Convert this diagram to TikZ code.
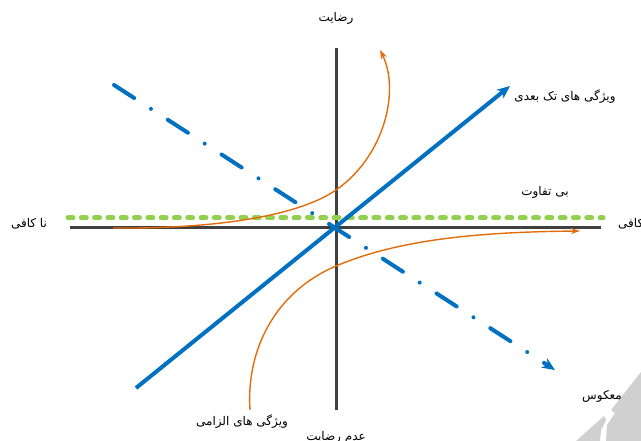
\documentclass[tikz,border=0pt]{standalone}
\usepackage{fontspec}
\newfontfamily\fa[Script=Arabic]{DejaVu Sans}
\TeXXeTstate=1
\usetikzlibrary{arrows.meta}
\definecolor{axisgray}{HTML}{404040}
\definecolor{blueline}{HTML}{0070C0}
\definecolor{greenline}{HTML}{92D050}
\definecolor{orangeline}{HTML}{E36C0A}
\definecolor{wmgray}{HTML}{D0D0D0}
\newcommand{\fatext}[1]{{\fa\beginR #1\endR}}
\begin{document}
\begin{tikzpicture}[x=1pt,y=-1pt,
  axisline/.style={draw=axisgray,line width=3pt},
  greendots/.style={draw=greenline,line width=5pt,line cap=round,dash pattern=on 5pt off 8.3pt},
  bluesolid/.style={draw=blueline,line width=4pt,-{Stealth[length=13pt,width=11pt]}},
  bluedashdot/.style={draw=blueline,line width=4pt,line cap=round,dash pattern=on 24pt off 20pt on 0pt off 20pt,-{Stealth[length=13pt,width=11pt]}},
  orangecurve/.style={draw=orangeline,line width=1.4pt,-{Stealth[length=9pt,width=6pt]}},
  lbl/.style={inner sep=0pt,font=\fa\fontsize{12}{14}\selectfont}]
\useasboundingbox (0,0) rectangle (641,441);
% watermark fragment
\fill[wmgray] (641,372) -- (641,441) -- (606,441) -- (607,425) -- (615,413) -- (611,410) -- cycle;
\fill[wmgray] (604,416) -- (606,420) -- (601,430) -- (600,441) -- (576,441) -- cycle;
% coordinates
\coordinate (axL) at (70,228);
\coordinate (axR) at (601,228);
\coordinate (axT) at (336,48);
\coordinate (axB) at (336,410);
\coordinate (gL) at (68,218);
\coordinate (gR) at (603,218);
\coordinate (b1s) at (136,388);
\coordinate (b1e) at (510,86);
\coordinate (b2s) at (114,85);
\coordinate (b2e) at (555,370);
\coordinate (o1s) at (113,228);
\coordinate (o1m) at (336,190);
\coordinate (o1e) at (380,50);
\coordinate (o2s) at (250,410);
\coordinate (o2m) at (336,266);
\coordinate (o2e) at (580,231);
% axes
\draw[axisline] (axL) -- (axR);
\draw[axisline] (axT) -- (axB);
% indifferent line
\draw[greendots] (gL) -- (gR);
% curves
\draw[orangecurve] (o1s) .. controls (220,229) and (300,215) .. (o1m)
                         .. controls (385,156) and (400,90) .. (o1e);
\draw[orangecurve] (o2s) .. controls (246,350) and (275,292) .. (o2m)
                         .. controls (400,239) and (480,232) .. (o2e);
% blue lines
\draw[bluesolid] (b1s) -- (b1e);
\draw[bluedashdot] (b2s) -- (b2e);
% labels
\node[lbl] (tsat) at (336,18) {\fatext{رضایت}};
\node[lbl] (tdis) at (336,437) {\fatext{عدم رضایت}};
\node[lbl] (tinsuf) at (29,224) {\fatext{نا کافی}};
\node[lbl,anchor=west] (tsuf) at (618,224) {\fatext{کافی}};
\node[lbl] (tind) at (545,192) {\fatext{بی تفاوت}};
\node[lbl] (tone) at (565,97) {\fatext{ویژگی های تک بعدی}};
\node[lbl] (trev) at (602,396) {\fatext{معکوس}};
\node[lbl] (tmust) at (242,422) {\fatext{ویژگی های الزامی}};
\end{tikzpicture}
\end{document}
